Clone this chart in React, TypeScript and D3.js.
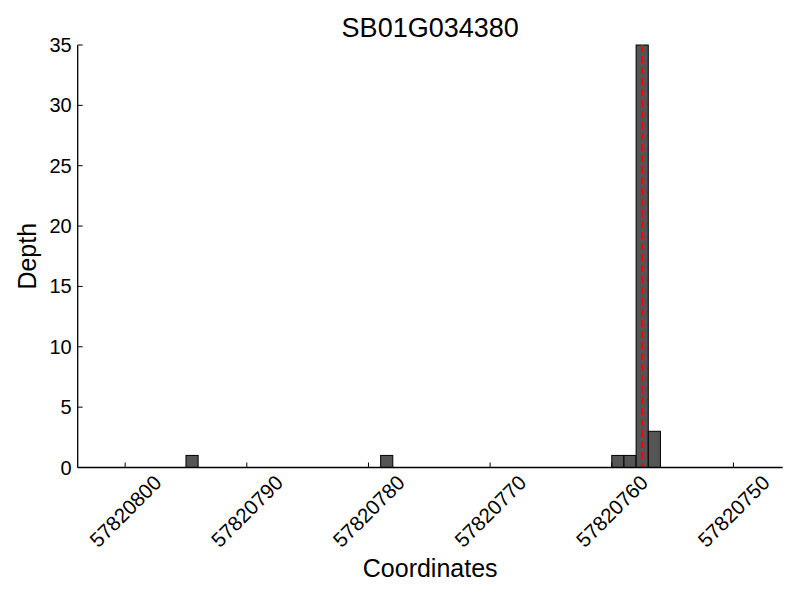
import React from "react";
import * as d3 from "d3";

const title = "SB01G034380";
const positions = [57820795, 57820779, 57820760, 57820759, 57820758, 57820757];
const depths = [1, 1, 1, 1, 35, 3];
const xTicks = [57820800, 57820790, 57820780, 57820770, 57820760, 57820750];
const yTicks = [0, 5, 10, 15, 20, 25, 30, 35];
const markerPos = 57820757.5;

const W = 800;
const H = 600;
const L = 77.7;
const R = 782.7;
const T = 45;
const B = 467.5;
const FONT = "'Liberation Sans', Arial, Helvetica, sans-serif";

export default function App() {
  const x = d3.scaleLinear().domain([57820803.9, 57820745.95]).range([L, R]);
  const y = d3.scaleLinear().domain([0, 35]).range([B, T]);

  return (
    <svg
      width={W}
      height={H}
      style={{ position: "absolute", left: 0, top: 0, background: "#fff" }}
      fontFamily={FONT}
    >
      <rect x={0} y={0} width={W} height={H} fill="#fff" />
      {positions.map((p, i) => {
        const x0 = x(p);
        const x1 = x(p - 1);
        return (
          <rect
            key={i}
            x={Math.min(x0, x1)}
            y={y(depths[i])}
            width={Math.abs(x1 - x0)}
            height={y(0) - y(depths[i])}
            fill="#555555"
            stroke="#000"
            strokeWidth={1}
          />
        );
      })}
      <line
        x1={x(markerPos)}
        x2={x(markerPos)}
        y1={T}
        y2={B}
        stroke="#ff0000"
        strokeWidth={2}
        strokeDasharray="7,4"
      />
      <line x1={L} x2={L} y1={T} y2={B} stroke="#000" strokeWidth={1.3} />
      <line x1={L} x2={R} y1={B} y2={B} stroke="#000" strokeWidth={1.3} />
      {yTicks.map((t) => (
        <g key={"y" + t}>
          <line x1={L} x2={L + 5} y1={y(t)} y2={y(t)} stroke="#000" strokeWidth={1} />
          <text
            x={L - 6}
            y={y(t)}
            textAnchor="end"
            dominantBaseline="central"
            fontSize={20}
          >
            {t}
          </text>
        </g>
      ))}
      {xTicks.map((t) => (
        <g key={"x" + t}>
          <line x1={x(t)} x2={x(t)} y1={B} y2={B - 5} stroke="#000" strokeWidth={1} />
          <text
            transform={`translate(${x(t)},${511}) rotate(-45)`}
            textAnchor="middle"
            dominantBaseline="central"
            fontSize={20.5}
          >
            {t}
          </text>
        </g>
      ))}
      <text x={(L + R) / 2} y={37} textAnchor="middle" fontSize={27}>
        {title}
      </text>
      <text x={(L + R) / 2} y={577} textAnchor="middle" fontSize={25}>
        Coordinates
      </text>
      <text
        transform={`translate(36,${(T + B) / 2}) rotate(-90)`}
        textAnchor="middle"
        fontSize={25}
      >
        Depth
      </text>
    </svg>
  );
}
